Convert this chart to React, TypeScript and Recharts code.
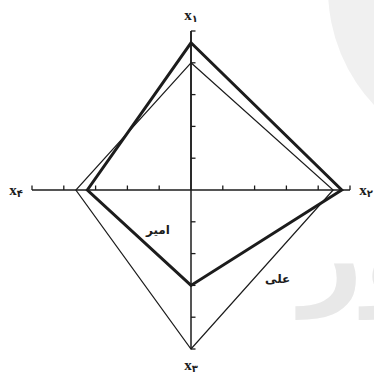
import React from "react";
import {
  RadarChart,
  Radar,
  PolarGrid,
  PolarAngleAxis,
  PolarRadiusAxis,
} from "recharts";

const axisKeys = ["x1", "x2", "x3", "x4"];
const axisSubscripts = ["۱", "۲", "۳", "۴"];
const amirValues = [4.63, 4.74, 3, 3.26];
const aliValues = [4, 4.47, 5, 3.62];
const radiusDomain = [0, 5];
const seriesNames = ["امیر", "علی"];

const chartData = axisKeys.map((key, i) => ({
  axis: key,
  sub: axisSubscripts[i],
  amir: amirValues[i],
  ali: aliValues[i],
}));

const INK = "#1c1c1c";
const CX = 191;
const CY = 190;

// the radius axis sits at 90deg; each of its ticks also marks the same radius on the
// other three spokes (right-pointing on the vertical spokes, upward on the horizontal ones)
function RadiusTick(props: any) {
  const { x, y, payload } = props;
  if (payload.value === 0) return <g />;
  const cx = typeof props.cx === "number" ? props.cx : CX;
  const cy = typeof props.cy === "number" ? props.cy : CY;
  const r = Math.hypot(x - cx, y - cy);
  const len = 4.5;
  return (
    <g stroke={INK} strokeWidth={1.3}>
      <line x1={cx} y1={cy - r} x2={cx + len} y2={cy - r} />
      <line x1={cx} y1={cy + r} x2={cx + len} y2={cy + r} />
      <line x1={cx + r} y1={cy} x2={cx + r} y2={cy - len} />
      <line x1={cx - r} y1={cy} x2={cx - r} y2={cy - len} />
    </g>
  );
}

function AxisLabel(props: any) {
  const { x, y, index } = props;
  return (
    <text
      x={x}
      y={y}
      textAnchor="middle"
      dominantBaseline="central"
      fill={INK}
      fontFamily="'Liberation Serif', serif"
      fontWeight="bold"
      fontSize={15}
    >
      <tspan>x</tspan>
      <tspan fontFamily="'DejaVu Sans', sans-serif" fontSize={10} dy={3}>
        {axisSubscripts[index]}
      </tspan>
    </text>
  );
}

export default function App() {
  return (
    <div
      style={{
        position: "absolute",
        left: 0,
        top: 0,
        width: 374,
        height: 373,
        overflow: "hidden",
        background: "#fff",
      }}
    >
      {/* faint watermark */}
      <div
        style={{
          position: "absolute",
          left: 328,
          top: -180,
          width: 338,
          height: 338,
          borderRadius: "50%",
          background: "#f0f0f0",
        }}
      />
      <div
        style={{
          position: "absolute",
          left: 300,
          top: 200,
          fontFamily: "'DejaVu Sans', sans-serif",
          fontWeight: "bold",
          fontSize: 110,
          color: "#e8e8e8",
          direction: "rtl",
          lineHeight: 1,
        }}
      >
        ور
      </div>
      <div style={{ position: "absolute", left: 0, top: 0 }}>
        <RadarChart
          width={374}
          height={373}
          data={chartData}
          cx={CX}
          cy={CY}
          outerRadius={159}
          margin={{ top: 0, right: 0, bottom: 0, left: 0 }}
        >
          <PolarGrid
            polarRadius={[0]}
            radialLines
            stroke={INK}
            strokeWidth={1.5}
            strokeOpacity={1}
          />
          <PolarAngleAxis
            dataKey="axis"
            axisLine={false}
            tickLine={false}
            tickSize={16}
            tick={<AxisLabel />}
          />
          <PolarRadiusAxis
            angle={90}
            type="number"
            domain={radiusDomain}
            tickCount={6}
            axisLine={{ stroke: INK, strokeWidth: 1.5 }}
            tick={<RadiusTick />}
          />
          <Radar
            name={seriesNames[1]}
            dataKey="ali"
            stroke={INK}
            strokeWidth={1.2}
            fill="none"
            fillOpacity={0}
            dot={false}
            isAnimationActive={false}
          />
          <Radar
            name={seriesNames[0]}
            dataKey="amir"
            stroke={INK}
            strokeWidth={3}
            strokeLinejoin="miter"
            fill="none"
            fillOpacity={0}
            dot={false}
            isAnimationActive={false}
          />
        </RadarChart>
      </div>
      <div
        style={{
          position: "absolute",
          left: 146,
          top: 223,
          fontFamily: "'DejaVu Sans', sans-serif",
          fontWeight: "bold",
          fontSize: 12,
          color: INK,
          direction: "rtl",
        }}
      >
        {seriesNames[0]}
      </div>
      <div
        style={{
          position: "absolute",
          left: 265,
          top: 272,
          fontFamily: "'DejaVu Sans', sans-serif",
          fontWeight: "bold",
          fontSize: 12,
          color: INK,
          direction: "rtl",
        }}
      >
        {seriesNames[1]}
      </div>
    </div>
  );
}
